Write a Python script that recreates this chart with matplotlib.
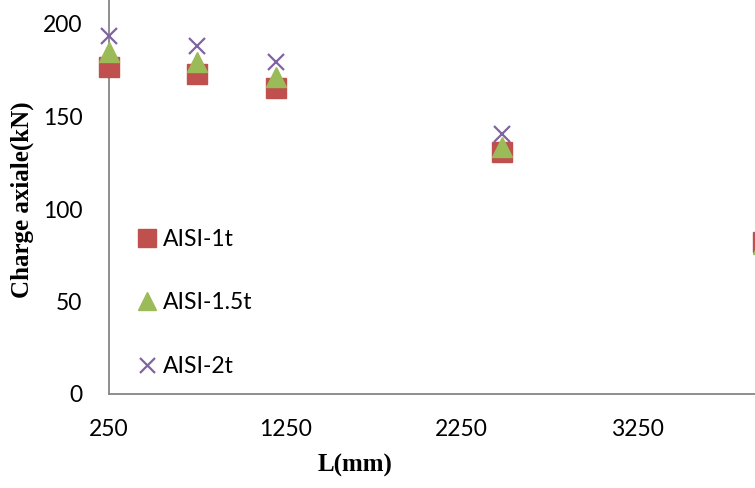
import matplotlib
matplotlib.use("Agg")
import matplotlib.pyplot as plt

# Data
L_mm = [250, 750, 1200, 2480, 3960]
aisi_1t = [176.5, 173, 165.5, 131, 82]
aisi_15t = [185, 179.5, 171.5, 133.5, 81]
aisi_2t = [193.5, 188, 179.5, 140.5, 83]
x_ticks = [250, 1250, 2250, 3250]
y_ticks = [0, 50, 100, 150, 200]

W, H = 755, 488
fig = plt.figure(figsize=(W / 100, H / 100), dpi=100)
ax = fig.add_axes([109 / W, 1 - 394 / H, (W - 109) / W, 394 / H])

ax.plot(L_mm, aisi_1t, linestyle="none", marker="s", ms=14.5, color="#C0504D",
        mec="#C0504D", label="AISI-1t", clip_on=False)
ax.plot(L_mm, aisi_15t, linestyle="none", marker="^", ms=14.5, color="#9BBB59",
        mec="#9BBB59", label="AISI-1.5t", clip_on=False)
ax.plot(L_mm, aisi_2t, linestyle="none", marker="x", ms=12, mew=1.6, color="#8064A2",
        label="AISI-2t", clip_on=False)

# 1000 mm per 176.2 px, 250 at x=109
ax.set_xlim(250, 250 + (W - 109) / 176.2 * 1000)
ax.set_ylim(0, 394 / 1.85)
ax.set_xticks(x_ticks)
ax.set_yticks(y_ticks)

font = "Lato"
ax.tick_params(axis="both", length=0, labelsize=16.5)
ax.tick_params(axis="y", pad=19)
ax.tick_params(axis="x", pad=18)
for lab in ax.get_xticklabels() + ax.get_yticklabels():
    lab.set_fontfamily(font)

for s in ["top", "right"]:
    ax.spines[s].set_visible(False)
for s in ["left", "bottom"]:
    ax.spines[s].set_color("#868686")
    ax.spines[s].set_linewidth(1.3)
    ax.spines[s].set_zorder(1)

ax.set_xlabel("L(mm)", fontfamily="Liberation Serif", fontweight="bold", fontsize=18)
ax.xaxis.set_label_coords((355 - 109) / (W - 109), -(465 - 394) / 394)
ax.xaxis.label.set_verticalalignment("center")
ax.set_ylabel("Charge axiale(kN)", fontfamily="Liberation Serif", fontweight="bold", fontsize=18)
ax.yaxis.set_label_coords(-(109 - 22) / (W - 109), (394 - 200) / 394)
ax.yaxis.label.set_verticalalignment("center")

leg = ax.legend(loc="upper left", bbox_to_anchor=((138 - 109) / (W - 109), (394 - 229) / 394),
                frameon=False, prop={"family": font, "size": 16.5},
                handlelength=0.8, handletextpad=0.3, labelspacing=1.85, borderpad=0,
                borderaxespad=0, markerscale=0.9)

fig.savefig("out.png", dpi=100)
